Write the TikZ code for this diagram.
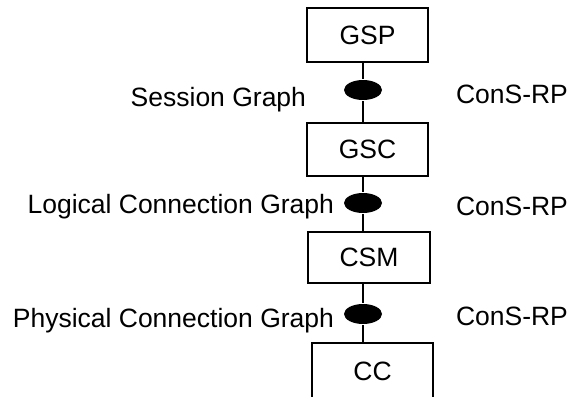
\documentclass[tikz,border=0pt]{standalone}
\usepackage{fontspec}
\setmainfont{Liberation Sans}
\usetikzlibrary{shapes.geometric}

\begin{document}
\begin{tikzpicture}[x=0.5pt,y=-0.5pt,line width=1pt,font=\fontsize{13.25pt}{15pt}\selectfont,
		box/.style={draw,minimum width=60.5pt,inner sep=0pt},
		rp/.style={ellipse,fill=black,minimum width=19pt,minimum height=10pt,inner sep=0pt},
		lbl/.style={inner sep=0pt}]
		\clip (0,0) rectangle (567,396);

		\draw (367.5,35) node[box,minimum height=27pt] (gsp) {GSP};
		\draw (367.5,149.5) node[box,minimum height=26.5pt] (gsc) {GSC};
		\draw (369,257.5) node[box,minimum width=61pt,minimum height=25.5pt] (csm) {CSM};
		\draw (372.5,371) node[box,minimum height=28pt] (cc) {CC};

		\path (363,90) node[rp] (rp1) {};
		\path (363,203) node[rp] (rp2) {};
		\path (363,314) node[rp] (rp3) {};

		\draw (rp1 |- gsp.south) -- (rp1) -- (rp1 |- gsc.north);
		\draw (rp2 |- gsc.south) -- (rp2) -- (rp2 |- csm.north);
		\draw (rp3 |- csm.south) -- (rp3) -- (rp3 |- cc.north);

		\draw (307,106) node[lbl,anchor=base east] (sg) {Session Graph};
		\draw (335,213) node[lbl,anchor=base east] (lcg) {Logical Connection Graph};
		\draw (335,327) node[lbl,anchor=base east] (pcg) {Physical Connection Graph};

		\draw (455,103) node[lbl,anchor=base west] (cons1) {ConS-RP};
		\draw (455,215) node[lbl,anchor=base west] (cons2) {ConS-RP};
		\draw (455,325) node[lbl,anchor=base west] (cons3) {ConS-RP};
	\end{tikzpicture}
\end{document}
